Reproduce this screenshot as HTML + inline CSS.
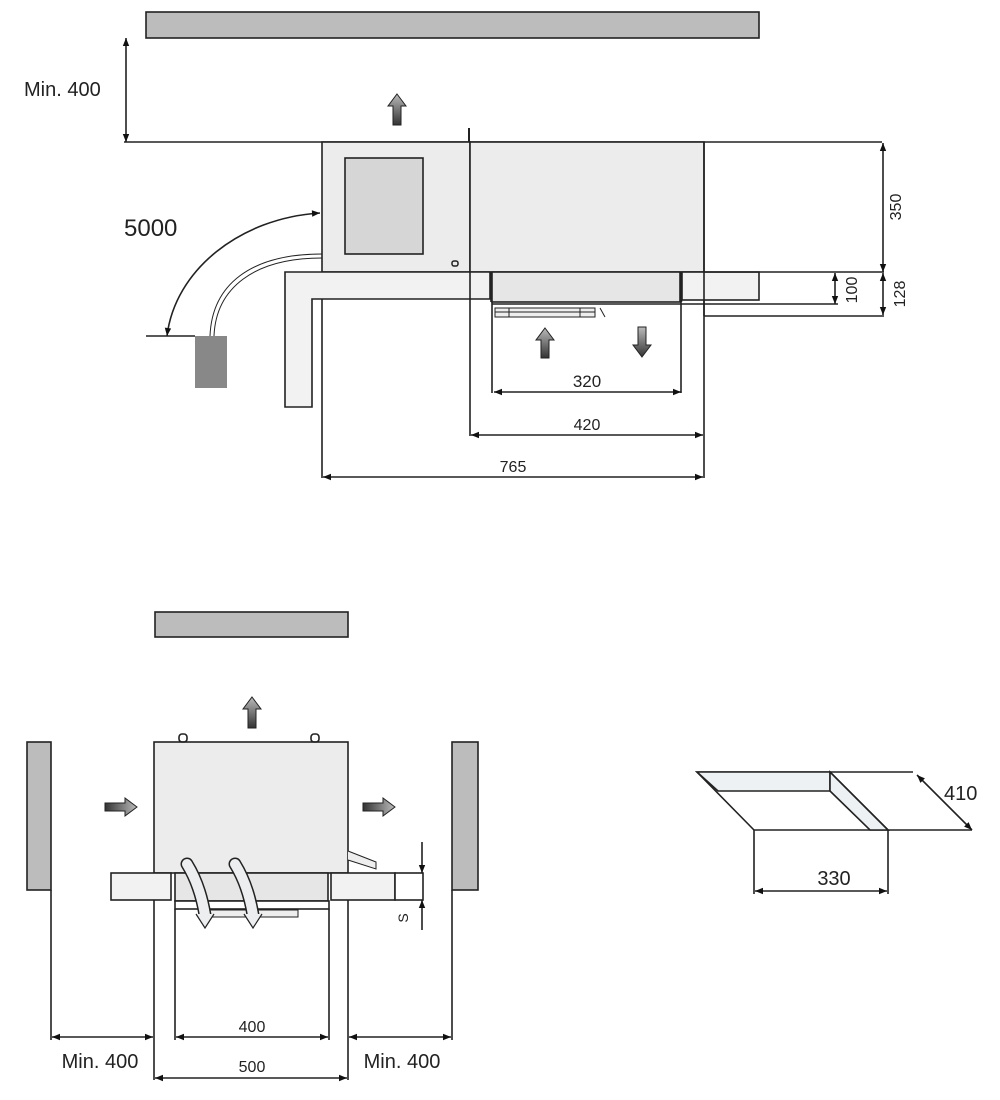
<!DOCTYPE html>
<html><head><meta charset="utf-8"><style>
html,body{margin:0;padding:0;background:#fff}
svg{display:block}
text{font-family:"Liberation Sans",sans-serif;fill:#222}
</style></head><body>
<svg width="1000" height="1100" viewBox="0 0 1000 1100" xmlns="http://www.w3.org/2000/svg">
<defs>
<marker id="a" viewBox="0 0 10 10" refX="10" refY="5" markerWidth="10" markerHeight="8" orient="auto-start-reverse" markerUnits="userSpaceOnUse"><path d="M0,1 L10,5 L0,9 Z" fill="#111"/></marker>
<linearGradient id="g" x1="0" y1="0" x2="0" y2="1"><stop offset="0" stop-color="#bbb"/><stop offset="1" stop-color="#333"/></linearGradient>
<linearGradient id="gh" x1="0" y1="0" x2="1" y2="0"><stop offset="0" stop-color="#333"/><stop offset="1" stop-color="#bbb"/></linearGradient>
</defs>
<g stroke="#222" stroke-width="1.6" fill="none">
<!-- TOP VIEW -->
<rect x="146" y="12" width="613" height="26" fill="#bcbcbc"/>
<line x1="124" y1="142" x2="882" y2="142"/>
<line x1="126" y1="38" x2="126" y2="142" marker-start="url(#a)" marker-end="url(#a)"/>
<line x1="469" y1="128" x2="469" y2="142" stroke-width="2"/>
<rect x="322" y="142" width="148" height="130" fill="#ececec"/>
<rect x="470" y="142" width="234" height="130" fill="#ececec"/>
<rect x="345" y="158" width="78" height="96" fill="#d6d6d6"/>
<rect x="452" y="261" width="6" height="5" rx="2" stroke-width="1.5"/>
<path d="M285,272 H490 V299 H312 V407 H285 Z" fill="#f2f2f2"/>
<rect x="492" y="272" width="188" height="30" fill="#e6e6e6"/>
<line x1="491" y1="272" x2="491" y2="302"/>
<line x1="681" y1="272" x2="681" y2="302" stroke-width="2.5"/>
<rect x="682" y="272" width="77" height="28" fill="#f2f2f2"/>
<line x1="492" y1="304" x2="838" y2="304"/>
<line x1="704" y1="316" x2="884" y2="316"/>
<line x1="704" y1="272" x2="884" y2="272"/>
<line x1="704" y1="142" x2="704" y2="478"/>
<line x1="322" y1="299" x2="322" y2="478"/>
<line x1="470" y1="272" x2="470" y2="436"/>
<line x1="492" y1="302" x2="492" y2="393"/>
<line x1="681" y1="302" x2="681" y2="393"/>
<line x1="704" y1="300" x2="704" y2="316"/>
<rect x="495" y="308" width="100" height="9" stroke-width="1" fill="#eee"/>
<line x1="495" y1="312" x2="595" y2="312" stroke-width="1"/>
<line x1="509" y1="308" x2="509" y2="317" stroke-width="1"/>
<line x1="580" y1="308" x2="580" y2="317" stroke-width="1"/>
<line x1="600" y1="308" x2="605" y2="317" stroke-width="1"/>
<line x1="494" y1="392" x2="681" y2="392" marker-start="url(#a)" marker-end="url(#a)"/>
<line x1="471" y1="435" x2="703" y2="435" marker-start="url(#a)" marker-end="url(#a)"/>
<line x1="323" y1="477" x2="703" y2="477" marker-start="url(#a)" marker-end="url(#a)"/>
<line x1="883" y1="143" x2="883" y2="272" marker-start="url(#a)" marker-end="url(#a)"/>
<line x1="835" y1="273" x2="835" y2="304" marker-start="url(#a)" marker-end="url(#a)"/>
<line x1="883" y1="273" x2="883" y2="315" marker-start="url(#a)" marker-end="url(#a)"/>
<!-- door swing -->
<path d="M320,213 C240,218 175,270 167,336" marker-start="url(#a)" marker-end="url(#a)"/>
<line x1="146" y1="336" x2="195" y2="336"/>
<path d="M322,254 C250,254 212,285 210,336" stroke-width="1"/>
<path d="M322,258 C254,258 216,288 214,336" stroke-width="1"/>
<rect x="195" y="336" width="32" height="52" fill="#888" stroke="none"/>
<!-- BOTTOM VIEW -->
<rect x="155" y="612" width="193" height="25" fill="#bcbcbc"/>
<rect x="27" y="742" width="24" height="148" fill="#bcbcbc"/>
<rect x="452" y="742" width="26" height="148" fill="#bcbcbc"/>
<rect x="154" y="742" width="194" height="131" fill="#ececec"/>
<rect x="179" y="734" width="8" height="8" rx="3"/>
<rect x="311" y="734" width="8" height="8" rx="3"/>
<path d="M348,851 L376,862 L376,869 L348,860" fill="#eee" stroke-width="1"/>
<rect x="111" y="873" width="60" height="27" fill="#f2f2f2"/>
<rect x="175" y="873" width="153" height="28" fill="#e6e6e6"/>
<rect x="331" y="873" width="64" height="27" fill="#f2f2f2"/>
<rect x="395" y="873" width="28" height="27" fill="#fff"/>
<rect x="175" y="901" width="154" height="8" fill="#fff"/>
<line x1="154" y1="900" x2="154" y2="1080"/>
<line x1="348" y1="900" x2="348" y2="1080"/>
<line x1="175" y1="909" x2="175" y2="1040"/>
<line x1="329" y1="909" x2="329" y2="1040"/>
<line x1="51" y1="890" x2="51" y2="1040"/>
<line x1="452" y1="890" x2="452" y2="1040"/>
<rect x="210" y="910" width="88" height="7" stroke-width="1" fill="#eee"/>
<line x1="52" y1="1037" x2="153" y2="1037" marker-start="url(#a)" marker-end="url(#a)"/>
<line x1="176" y1="1037" x2="328" y2="1037" marker-start="url(#a)" marker-end="url(#a)"/>
<line x1="349" y1="1037" x2="451" y2="1037" marker-start="url(#a)" marker-end="url(#a)"/>
<line x1="155" y1="1078" x2="347" y2="1078" marker-start="url(#a)" marker-end="url(#a)"/>
<line x1="422" y1="842" x2="422" y2="873" marker-end="url(#a)"/>
<line x1="422" y1="930" x2="422" y2="900" marker-end="url(#a)"/>
<!-- hoses -->
<path d="M187,864 Q200,885 205,915" stroke="#222" stroke-width="13" stroke-linecap="round"/>
<path d="M187,864 Q200,885 205,915" stroke="#eceeef" stroke-width="10" stroke-linecap="round"/>
<path d="M196,914 L205,928 L214,914" fill="#eceeef" stroke-width="1.2"/>
<path d="M235,864 Q248,885 253,915" stroke="#222" stroke-width="13" stroke-linecap="round"/>
<path d="M235,864 Q248,885 253,915" stroke="#eceeef" stroke-width="10" stroke-linecap="round"/>
<path d="M244,914 L253,928 L262,914" fill="#eceeef" stroke-width="1.2"/>
<!-- tray -->
<path d="M697,772 H830 L888,830 H754 Z" fill="#fff"/>
<path d="M697,772 H830 V791 H718 Z" fill="#eef1f4"/>
<path d="M830,772 L888,830 H870 L830,791 Z" fill="#eef1f4"/>
<line x1="830" y1="772" x2="913" y2="772"/>
<line x1="888" y1="830" x2="972" y2="830"/>
<line x1="917" y1="775" x2="972" y2="830" marker-start="url(#a)" marker-end="url(#a)"/>
<line x1="754" y1="830" x2="754" y2="894"/>
<line x1="888" y1="830" x2="888" y2="894"/>
<line x1="755" y1="891" x2="887" y2="891" marker-start="url(#a)" marker-end="url(#a)"/>
</g>
<!-- fat arrows -->
<g stroke="#222" stroke-width="1">
<path d="M397,94 L406,106 L401,106 L401,125 L393,125 L393,106 L388,106 Z" fill="url(#g)"/>
<path d="M545,328 L554,340 L549,340 L549,358 L541,358 L541,340 L536,340 Z" fill="url(#g)"/>
<path d="M642,357 L651,345 L646,345 L646,327 L638,327 L638,345 L633,345 Z" fill="url(#g)"/>
<path d="M252,697 L261,709 L256,709 L256,728 L248,728 L248,709 L243,709 Z" fill="url(#g)"/>
<path d="M137,807 L125,798 L125,803 L105,803 L105,811 L125,811 L125,816 Z" fill="url(#gh)"/>
<path d="M395,807 L383,798 L383,803 L363,803 L363,811 L383,811 L383,816 Z" fill="url(#gh)"/>
</g>
<!-- labels -->
<text x="24" y="96" font-size="20">Min. 400</text>
<text x="124" y="236" font-size="24">5000</text>
<text x="587" y="387" font-size="17" text-anchor="middle">320</text>
<text x="587" y="430" font-size="16" text-anchor="middle">420</text>
<text x="513" y="472" font-size="16" text-anchor="middle">765</text>
<text transform="translate(901,207) rotate(-90)" font-size="16" text-anchor="middle">350</text>
<text transform="translate(857,290) rotate(-90)" font-size="16" text-anchor="middle">100</text>
<text transform="translate(905,294) rotate(-90)" font-size="16" text-anchor="middle">128</text>
<text transform="translate(408,918) rotate(-90)" font-size="14" text-anchor="middle">S</text>
<text x="252" y="1032" font-size="16" text-anchor="middle">400</text>
<text x="252" y="1072" font-size="16" text-anchor="middle">500</text>
<text x="100" y="1068" font-size="20" text-anchor="middle">Min. 400</text>
<text x="402" y="1068" font-size="20" text-anchor="middle">Min. 400</text>
<text x="834" y="885" font-size="20" text-anchor="middle">330</text>
<text x="944" y="800" font-size="20">410</text>
</svg>
</body></html>
